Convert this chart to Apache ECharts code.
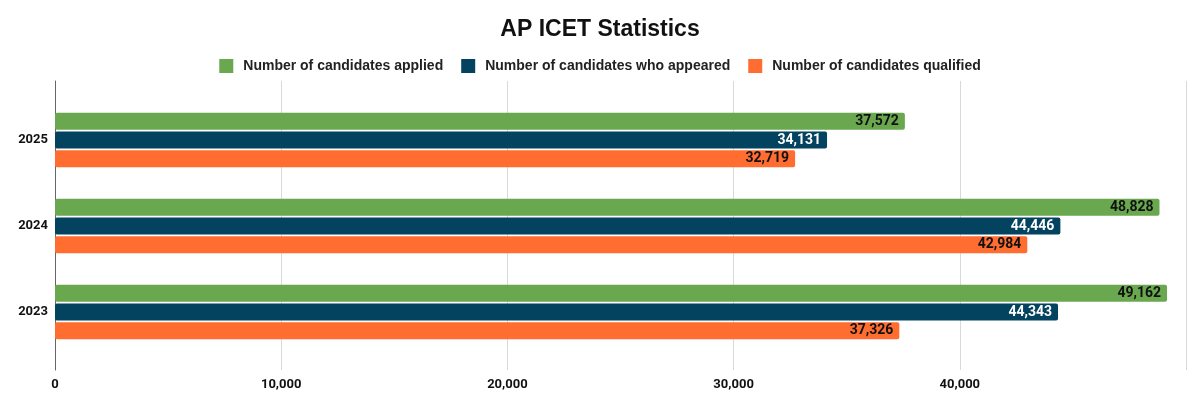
<!DOCTYPE html>
<html>
<head>
<meta charset="utf-8">
<script src="https://cdn.jsdelivr.net/npm/echarts@6/dist/echarts.min.js"></script>
<style>
  html, body { margin: 0; padding: 0; background: #fff; }
  #chart { width: 1200px; height: 399px; }
</style>
</head>
<body>
<div id="chart"></div>
<script>
var years = ['2025', '2024', '2023']
var applied = [37572, 48828, 49162]
var appeared = [34131, 44446, 44343]
var qualified = [32719, 42984, 37326]
var seriesNames = [
    'Number of candidates applied',
    'Number of candidates who appeared',
    'Number of candidates qualified'
]
var colors = ['#6aa84f', '#03435f', '#ff6d31']
var labelColors = ['#111', '#fff', '#111']

var chart = echarts.init(document.getElementById('chart'))

var fmt = function (v) {
    return v.toLocaleString('en-US')
}

var makeSeries = function (i, data) {
    return {
        name: seriesNames[i],
        type: 'bar',
        xAxisIndex: 1,
        yAxisIndex: 1,
        data: data,
        barWidth: 17,
        barGap: '10%',
        itemStyle: { color: colors[i], borderRadius: 2 },
        label: {
            show: true,
            position: 'insideRight',
            distance: 6,
            color: labelColors[i],
            fontFamily: 'Roboto',
            fontWeight: 'bold',
            fontSize: 14,
            formatter: function (p) { return fmt(p.value) }
        }
    }
}

var option = {
    color: colors,
    textStyle: { fontFamily: 'Liberation Sans' },
    title: {
        text: 'AP ICET Statistics',
        left: 'center',
        top: 13,
        textStyle: { fontSize: 23, fontWeight: 'bold', color: '#111', fontFamily: 'Liberation Sans' }
    },
    legend: {
        top: 54,
        left: 'center',
        itemWidth: 14,
        itemHeight: 14,
        itemGap: 18,
        icon: 'rect',
        textStyle: {
            fontSize: 14,
            fontWeight: 'bold',
            color: '#222',
            fontFamily: 'Liberation Sans',
            padding: [0, 0, 0, 5]
        },
        data: seriesNames
    },
    grid: [
        { left: 55, right: 14, top: 81, bottom: 29 },
        { left: 55, right: 14, top: 97, bottom: 44 }
    ],
    xAxis: [
        {
            type: 'value',
            gridIndex: 0,
            min: 0,
            max: 50000,
            interval: 10000,
            axisLine: { show: false },
            axisTick: { show: false },
            splitLine: { show: true, lineStyle: { color: '#d9d9d9', width: 1 } },
            axisLabel: {
                color: '#111',
                fontSize: 13,
                fontWeight: 'bold',
                fontFamily: 'Roboto',
                margin: 8,
                formatter: function (v) { return v === 50000 ? '' : fmt(v) }
            }
        },
        {
            type: 'value',
            gridIndex: 1,
            min: 0,
            max: 50000,
            show: false
        }
    ],
    yAxis: [
        {
            type: 'value',
            gridIndex: 0,
            axisLine: { show: true, lineStyle: { color: '#666', width: 1 } },
            axisTick: { show: false },
            axisLabel: { show: false },
            splitLine: { show: false }
        },
        {
            type: 'category',
            gridIndex: 1,
            inverse: true,
            data: years,
            axisLine: { show: false },
            axisTick: { show: false },
            axisLabel: {
                color: '#111',
                fontSize: 13,
                fontWeight: 'bold',
                fontFamily: 'Roboto',
                margin: 7
            }
        }
    ],
    series: [
        makeSeries(0, applied),
        makeSeries(1, appeared),
        makeSeries(2, qualified)
    ]
}

chart.setOption(option)
</script>
</body>
</html>
